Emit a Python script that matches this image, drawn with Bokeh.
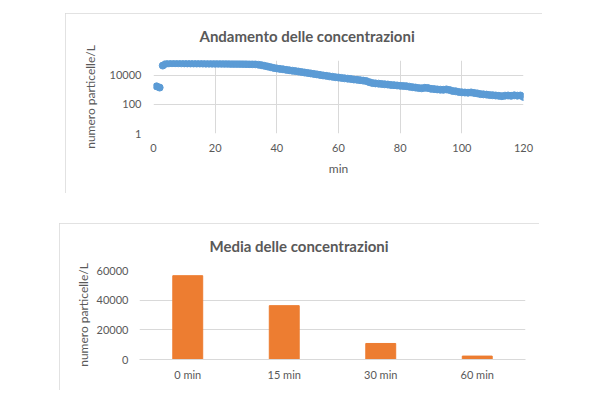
from bokeh.plotting import figure
from bokeh.models import Range1d, FixedTicker, NumeralTickFormatter, FactorRange
from bokeh.embed import file_html
from bokeh.resources import INLINE

# ---- data ----
minutes = [1, 2, 3, 4, 5, 6, 7, 8, 9, 10,
           11, 12, 13, 14, 15, 16, 17, 18, 19, 20,
           21, 22, 23, 24, 25, 26, 27, 28, 29, 30,
           31, 32, 33, 34, 35, 36, 37, 38, 39, 40,
           41, 42, 43, 44, 45, 46, 47, 48, 49, 50,
           51, 52, 53, 54, 55, 56, 57, 58, 59, 60,
           61, 62, 63, 64, 65, 66, 67, 68, 69, 70,
           71, 72, 73, 74, 75, 76, 77, 78, 79, 80,
           81, 82, 83, 84, 85, 86, 87, 88, 89, 90,
           91, 92, 93, 94, 95, 96, 97, 98, 99, 100,
           101, 102, 103, 104, 105, 106, 107, 108, 109, 110,
           111, 112, 113, 114, 115, 116, 117, 118, 119, 120]
concentration = [1700, 1400, 45000, 60000, 64000, 65000, 65000, 64500, 64000, 63500,
                 63000, 62500, 62500, 62000, 62000, 61500, 61000, 61000, 60500, 60000,
                 60000, 59500, 59000, 59000, 58500, 58000, 58000, 57500, 57000, 56500,
                 56000, 55500, 55000, 52000, 48000, 43000, 39000, 35000, 31000, 28500,
                 26500, 25000, 23000, 21500, 20000, 18800, 17500, 16200, 15000, 14000,
                 13000, 12000, 11200, 10300, 9500, 8900, 8200, 7700, 7200, 6800,
                 6400, 6000, 5700, 5400, 5000, 4800, 4500, 4200, 3900, 3300,
                 2850, 2700, 2600, 2450, 2350, 2250, 2100, 2050, 1950, 1850,
                 1800, 1750, 1600, 1500, 1400, 1300, 1250, 1350, 1300, 1150,
                 1100, 1050, 1000, 980, 1050, 950, 820, 780, 700, 660,
                 640, 620, 650, 600, 560, 500, 480, 460, 430, 420,
                 400, 380, 360, 390, 400, 380, 410, 390, 400, 320]

bar_categories = ["0 min", "15 min", "30 min", "60 min"]
bar_values = [56500, 36300, 10800, 2300]

x_ticks = [0, 20, 40, 60, 80, 100, 120]
y_ticks_log = [1, 100, 10000]
y_ticks_bar = [0, 20000, 40000, 60000]

FONT = "Lato"
TXT = "#595959"
GRID = "#d9d9d9"


def style_axis(ax):
    ax.major_tick_line_color = None
    ax.minor_tick_line_color = None
    ax.major_tick_out = 0
    ax.major_tick_in = 0
    ax.minor_tick_out = 0
    ax.minor_tick_in = 0
    ax.major_label_text_font = FONT
    ax.major_label_text_font_size = "11px"
    ax.major_label_text_color = TXT
    ax.axis_label_text_font = FONT
    ax.axis_label_text_font_size = "12px"
    ax.axis_label_text_font_style = "normal"
    ax.axis_label_text_color = TXT


def style_title(t, text, offset):
    t.text = text
    t.text_font = FONT
    t.text_font_size = "15px"
    t.text_font_style = "bold"
    t.text_color = TXT
    t.align = "left"
    t.offset = offset
    t.vertical_align = "top"
    t.standoff = 27


# ---- top chart ----
p1 = figure(width=477, height=180, output_backend="svg", toolbar_location=None,
            y_axis_type="log", x_range=Range1d(0, 120), y_range=Range1d(1, 100000),
            min_border_left=88, min_border_right=19, min_border_top=47, min_border_bottom=60)
p1.scatter(minutes, concentration, size=7, color="#5B9BD5", line_color="#5B9BD5")
style_title(p1.title, "Andamento delle concentrazioni", 46)
p1.outline_line_color = None
p1.styles = {"outline": "1px solid #d9d9d9", "outline-offset": "-1px"}
p1.margin = (13, 0, 0, 65)

p1.xaxis.ticker = FixedTicker(ticks=x_ticks)
p1.yaxis.ticker = FixedTicker(ticks=y_ticks_log)
p1.yaxis.formatter = NumeralTickFormatter(format="0")
p1.xaxis.axis_label = "min"
p1.yaxis.axis_label = "numero particelle/L"
for ax in (p1.xaxis, p1.yaxis):
    style_axis(ax)
    ax.axis_line_color = None
p1.xaxis.major_label_standoff = 10
p1.xaxis.axis_label_standoff = 6
p1.yaxis.major_label_standoff = 12
p1.yaxis.axis_label_standoff = 9
p1.xgrid.ticker = FixedTicker(ticks=x_ticks)
p1.ygrid.ticker = FixedTicker(ticks=y_ticks_log)
p1.grid.grid_line_color = GRID

# ---- bottom chart ----
p2 = figure(width=480, height=167, output_backend="svg", toolbar_location=None,
            x_range=FactorRange(*bar_categories), y_range=Range1d(0, 60000),
            min_border_left=80, min_border_right=14, min_border_top=47, min_border_bottom=31)
p2.vbar(x=bar_categories, top=bar_values, width=0.31, color="#ED7D31")
style_title(p2.title, "Media delle concentrazioni", 70)
p2.outline_line_color = None
p2.styles = {"outline": "1px solid #d9d9d9", "outline-offset": "-1px"}
p2.margin = (30, 0, 0, 59)

p2.yaxis.ticker = FixedTicker(ticks=y_ticks_bar)
p2.yaxis.formatter = NumeralTickFormatter(format="0")
p2.yaxis.axis_label = "numero particelle/L"
for ax in (p2.xaxis, p2.yaxis):
    style_axis(ax)
p2.yaxis.axis_line_color = None
p2.xaxis.axis_line_color = GRID
p2.xaxis.major_label_standoff = 8
p2.yaxis.major_label_standoff = 11
p2.yaxis.axis_label_standoff = 3
p2.xgrid.grid_line_color = None
p2.ygrid.ticker = FixedTicker(ticks=y_ticks_bar)
p2.ygrid.grid_line_color = GRID

open("out.html", "w").write(file_html([p1, p2], INLINE))
